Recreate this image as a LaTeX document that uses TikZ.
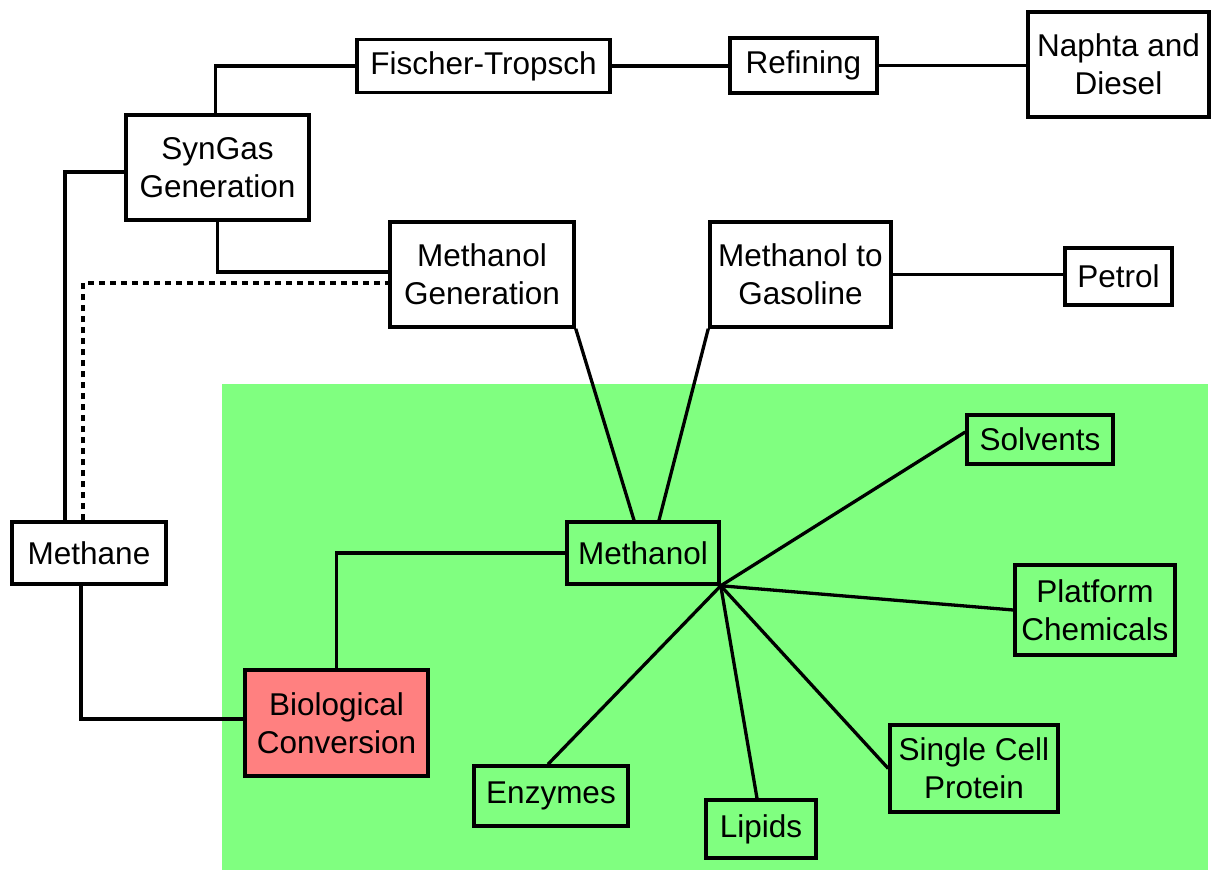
\documentclass[tikz,border=0pt]{standalone}
\usepackage{fontspec}
\setmainfont{Liberation Sans}
\definecolor{bggreen}{HTML}{80FF80}
\definecolor{biored}{HTML}{FF8080}
\begin{document}
\begin{tikzpicture}[x=1pt,y=-1pt,
  box/.style={draw=black, line width=3.5pt, inner sep=0pt, align=center,
    font=\fontsize{31.5}{38}\selectfont},
  conn/.style={line width=3.3pt, draw=black},
  dotconn/.style={line width=3.3pt, draw=black, dash pattern=on 6pt off 5pt}]
\useasboundingbox (0,0) rectangle (1211,870);
\fill[white] (0,0) rectangle (1211,870);
\fill[bggreen] (222,384) rectangle (1208,870);

\node[box, fill=white, minimum width=253pt, minimum height=53pt] (ft) at (483.5,66) {Fischer-Tropsch};
\node[box, fill=white, minimum width=147pt, minimum height=55pt] (ref) at (803.5,65.5) {Refining};
\node[box, fill=white, minimum width=181pt, minimum height=105pt] (nd) at (1118.5,64.5) {Naphta and\\Diesel};
\node[box, fill=white, minimum width=183pt, minimum height=105pt] (sg) at (217.5,167.5) {SynGas\\Generation};
\node[box, fill=white, minimum width=184pt, minimum height=105pt] (mg) at (482,274.5) {Methanol\\Generation};
\node[box, fill=white, minimum width=181pt, minimum height=105pt] (mtg) at (800.5,274.5) {Methanol to\\Gasoline};
\node[box, fill=white, minimum width=107pt, minimum height=57pt] (pet) at (1118.5,276.5) {Petrol};
\node[box, fill=white, minimum width=154pt, minimum height=62pt] (meth) at (89,553) {Methane};
\node[box, fill=biored, minimum width=183pt, minimum height=106pt] (bio) at (336.5,723) {Biological\\Conversion};
\node[box, minimum width=152pt, minimum height=62pt] (mol) at (643,553) {Methanol};
\node[box, minimum width=146pt, minimum height=49pt] (sol) at (1040,439.5) {Solvents};
\node[box, minimum width=160pt, minimum height=90pt] (plat) at (1095,610) {Platform\\Chemicals};
\node[box, minimum width=168pt, minimum height=87pt] (scp) at (974,768.5) {Single Cell\\Protein};
\node[box, minimum width=110pt, minimum height=58pt] (lip) at (761,829) {Lipids};
\node[box, minimum width=154pt, minimum height=60pt] (enz) at (551,796) {Enzymes};

\draw[conn] ([xshift=-2pt]sg.north) |- (ft.west);
\draw[conn] (ft.east) -- (ref.west |- ft.east);
\draw[conn] (ref.east) -- (nd.west |- ref.east);
\draw[conn] (mtg.east) -- (pet.west |- mtg.east);
\draw[conn] ([yshift=-4.5pt]sg.west) -| ([xshift=-24pt]meth.north);
\draw[conn] (sg.south) |- ([yshift=2.5pt]mg.west);
\draw[dotconn] ([xshift=-6pt]meth.north) |- ([yshift=-8.5pt]mg.west);
\draw[conn] ([xshift=-8pt]meth.south) |- ([yshift=4pt]bio.west);
\draw[conn] (mol.west) -| (bio.north);
\draw[conn] (mg.south east) -- ([xshift=-9pt]mol.north);
\draw[conn] (mtg.south west) -- ([xshift=16pt]mol.north);
\coordinate (hub) at (mol.south east);
\draw[conn] (hub) -- ([yshift=7.5pt]sol.west);
\draw[conn] (hub) -- (plat.west);
\draw[conn] (hub) -- (scp.west);
\draw[conn] (hub) -- ([xshift=-4pt]lip.north);
\draw[conn] (hub) -- ([xshift=-3pt]enz.north);
\end{tikzpicture}
\end{document}
